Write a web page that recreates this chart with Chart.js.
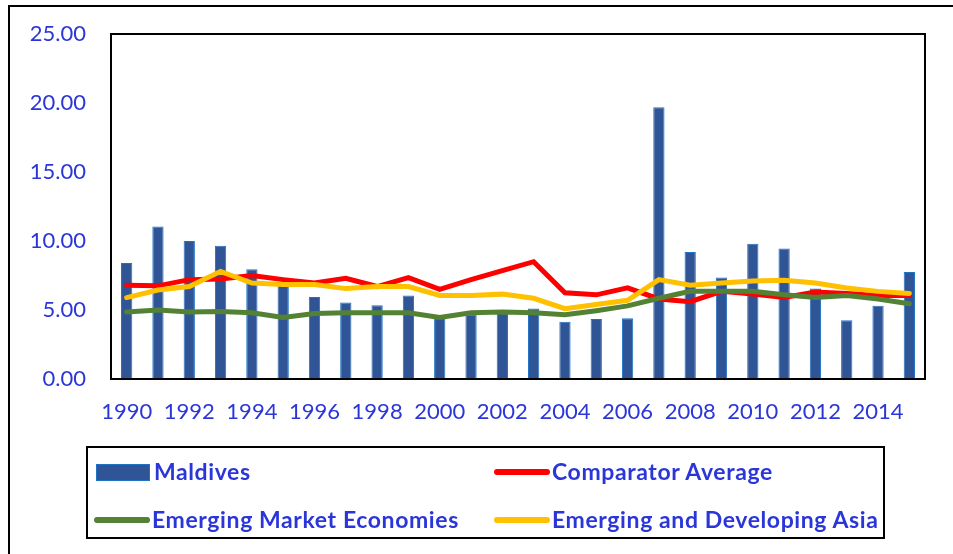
<!DOCTYPE html>
<html>
<head>
<meta charset="utf-8">
<script src="https://cdn.jsdelivr.net/npm/chart.js@4"></script>
<style>
  body { margin: 0; background: #fff; }
  #wrap { position: relative; width: 953px; height: 554px; overflow: hidden; }
  #frame { position: absolute; left: 8px; top: 5px; width: 960px; height: 547px;
    border-left: 2px solid #000; border-top: 2px solid #000; border-bottom: 1px solid #d9d9d9; }
  canvas { position: absolute; left: 0; top: 0; }
  #legend { position: absolute; left: 86px; top: 446px; width: 795px; height: 89px; overflow: hidden;
    border: 2px solid #000; font-family: Lato, sans-serif; font-weight: bold; font-size: 23px;
    letter-spacing: 0.6px; color: #2b36d9; }
  .item { position: absolute; white-space: nowrap; line-height: 26px; }
  .sw { position: absolute; }
</style>
</head>
<body>
<div id="wrap">
  <div id="frame"></div>
  <canvas id="chart" width="953" height="554"></canvas>
  <div id="legend"></div>
</div>
<script>
const years = ["1990","1991","1992","1993","1994","1995","1996","1997","1998","1999",
  "2000","2001","2002","2003","2004","2005","2006","2007","2008","2009",
  "2010","2011","2012","2013","2014","2015"];

const maldives = [8.4, 11.05, 10.0, 9.65, 7.95, 6.8, 5.95, 5.55, 5.35, 6.05,
  4.5, 4.7, 4.8, 5.1, 4.15, 4.35, 4.4, 19.7, 9.2, 7.35,
  9.8, 9.45, 6.55, 4.25, 5.3, 7.75];

const comparator = [6.8, 6.75, 7.2, 7.25, 7.5, 7.2, 6.95, 7.3, 6.7, 7.35,
  6.5, 7.2, 7.85, 8.5, 6.25, 6.1, 6.6, 5.8, 5.6, 6.35,
  6.15, 5.9, 6.3, 6.2, 6.05, 6.05];

const emerging = [4.85, 5.0, 4.85, 4.9, 4.8, 4.45, 4.75, 4.8, 4.8, 4.8,
  4.45, 4.8, 4.85, 4.8, 4.65, 4.95, 5.3, 5.85, 6.35, 6.35,
  6.35, 6.1, 5.9, 6.05, 5.8, 5.45];

const asia = [5.9, 6.45, 6.7, 7.8, 6.95, 6.85, 6.85, 6.55, 6.7, 6.7,
  6.05, 6.05, 6.15, 5.85, 5.1, 5.4, 5.7, 7.2, 6.8, 6.95,
  7.1, 7.15, 6.95, 6.6, 6.35, 6.2];

const blue = "#2b36d9";
const font = { family: "Lato, sans-serif", size: 22 };

// black frame round the plot area
const plotBorder = {
  id: "plotBorder",
  afterDraw(chart) {
    const { ctx, chartArea: a } = chart;
    ctx.save();
    ctx.strokeStyle = "#000";
    ctx.lineWidth = 2;
    ctx.strokeRect(a.left, a.top, a.right - a.left, a.bottom - a.top);
    ctx.restore();
  }
};

new Chart(document.getElementById("chart"), {
  type: "bar",
  data: {
    labels: years,
    datasets: [
      { type: "bar", label: "Maldives", data: maldives, backgroundColor: "#2f5597",
        borderColor: "#1f73c4", borderWidth: 1, barPercentage: 0.36, categoryPercentage: 1, order: 4 },
      { type: "line", label: "Comparator Average", data: comparator, borderColor: "#ff0000",
        borderWidth: 5, pointRadius: 0, tension: 0, borderCapStyle: "round", order: 3 },
      { type: "line", label: "Emerging Market Economies", data: emerging, borderColor: "#548235",
        borderWidth: 5, pointRadius: 0, tension: 0, borderCapStyle: "round", order: 2 },
      { type: "line", label: "Emerging and Developing Asia", data: asia, borderColor: "#ffc000",
        borderWidth: 5, pointRadius: 0, tension: 0, borderCapStyle: "round", order: 1 }
    ]
  },
  options: {
    responsive: false,
    animation: false,
    layout: { padding: { left: 0, top: 34, right: 28, bottom: 115 } },
    plugins: { legend: { display: false }, tooltip: { enabled: false } },
    scales: {
      x: {
        offset: true,
        grid: { display: false, drawTicks: false },
        border: { display: false },
        afterFit: s => { s.height = 60; s.paddingLeft = 0; s.paddingRight = 0; },
        ticks: {
          autoSkip: false, maxRotation: 0, padding: 20, color: blue, font,
          callback: (v, i) => (i % 2 === 0 ? years[i] : "")
        }
      },
      y: {
        min: 0, max: 25,
        grid: { display: false, drawTicks: false },
        border: { display: false },
        afterFit: s => { s.width = 111; s.paddingTop = 0; s.paddingBottom = 0; },
        ticks: { stepSize: 5, padding: 25, color: blue, font, callback: v => v.toFixed(2) }
      }
    }
  },
  plugins: [plotBorder]
});

// legend as HTML
const legendItems = [
  { text: "Maldives", kind: "box", color: "#2f5597", x: 8, y: 15 },
  { text: "Comparator Average", kind: "line", color: "#ff0000", x: 406, y: 15 },
  { text: "Emerging Market Economies", kind: "line", color: "#548235", x: 6, y: 63 },
  { text: "Emerging and Developing Asia", kind: "line", color: "#ffc000", x: 406, y: 63 }
];
const leg = document.getElementById("legend");
legendItems.forEach(it => {
  const sw = document.createElement("div");
  sw.className = "sw";
  if (it.kind === "box") {
    Object.assign(sw.style, { left: it.x + "px", top: (it.y + 1) + "px", width: "52px", height: "15px",
      background: it.color, border: "1px solid #1f73c4" });
  } else {
    Object.assign(sw.style, { left: it.x + "px", top: (it.y + 6) + "px", width: "56px", height: "6px",
      background: it.color, borderRadius: "3px" });
  }
  leg.appendChild(sw);
  const t = document.createElement("div");
  t.className = "item";
  t.textContent = it.text;
  t.style.left = (it.x + 58) + "px";
  t.style.top = (it.y - 5) + "px";
  leg.appendChild(t);
});
</script>
</body>
</html>
